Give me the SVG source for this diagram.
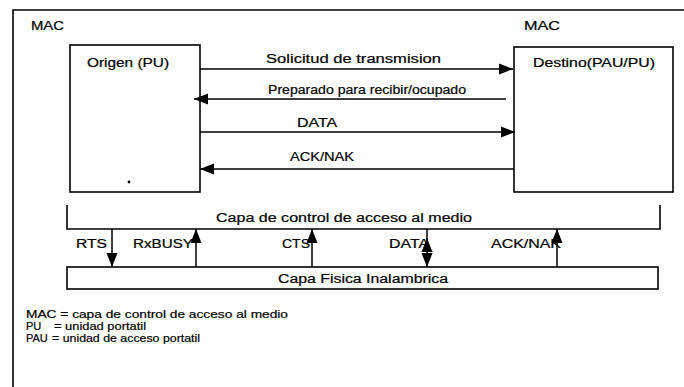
<svg xmlns="http://www.w3.org/2000/svg" width="684" height="387" viewBox="0 0 684 387">
<style>
  text { font-family: "Liberation Sans", Arial, sans-serif; font-size: 12px; fill: #000; stroke: #000; stroke-width: 0.2; }
  .lg { font-size: 11px; }
  .box { fill: none; stroke: #000; stroke-width: 1.6; }
  .ln { fill: none; stroke: #000; stroke-width: 1.6; }
  .arr { fill: none; stroke: #000; stroke-width: 1.5; marker-end: url(#ah); }
</style>
<defs>
  <marker id="ah" markerUnits="userSpaceOnUse" markerWidth="14" markerHeight="12" refX="14" refY="6" orient="auto">
    <path d="M0,0.5 L14,6 L0,11.5 z" fill="#000"/>
  </marker>
</defs>
<rect width="684" height="387" fill="#fff"/>
<g id="frame">
  <path class="ln" d="M13,387 V10 H684" stroke-width="1.8"/>
  <text x="31" y="30" textLength="33" lengthAdjust="spacingAndGlyphs">MAC</text>
  <text x="524" y="30" textLength="36" lengthAdjust="spacingAndGlyphs">MAC</text>
</g>
<g id="origen">
  <rect class="box" x="70" y="45" width="130" height="147"/>
  <text x="87" y="67" textLength="82" lengthAdjust="spacingAndGlyphs">Origen (PU)</text>
  <circle cx="129" cy="182" r="1.4" fill="#000"/>
</g>
<g id="destino">
  <rect class="box" x="514" y="47" width="159" height="145"/>
  <text x="533" y="67" textLength="122" lengthAdjust="spacingAndGlyphs">Destino(PAU/PU)</text>
</g>
<g id="mac-layer">
  <path class="box" d="M67,205 V229 H660 V205"/>
  <text x="216" y="222" textLength="256" lengthAdjust="spacingAndGlyphs">Capa de control de acceso al medio</text>
</g>
<g id="phy-layer">
  <rect class="box" x="67" y="267" width="591" height="22"/>
  <text x="278" y="283" textLength="170" lengthAdjust="spacingAndGlyphs">Capa Fisica Inalambrica</text>
</g>
<g id="connectors">
  <line class="arr" x1="200" y1="69" x2="513" y2="69"/>
  <text x="266" y="63" textLength="175" lengthAdjust="spacingAndGlyphs">Solicitud de transmision</text>
  <line class="arr" x1="506" y1="99" x2="194" y2="99"/>
  <text x="268" y="94" textLength="198" lengthAdjust="spacingAndGlyphs">Preparado para recibir/ocupado</text>
  <line class="arr" x1="200" y1="132" x2="515" y2="132"/>
  <text x="297" y="127" textLength="40" lengthAdjust="spacingAndGlyphs">DATA</text>
  <line class="arr" x1="514" y1="169" x2="200" y2="169"/>
  <text x="290" y="161" textLength="64" lengthAdjust="spacingAndGlyphs">ACK/NAK</text>

  <line class="arr" x1="112" y1="229" x2="112" y2="267"/>
  <text x="76" y="248" textLength="31" lengthAdjust="spacingAndGlyphs">RTS</text>
  <line class="arr" x1="196" y1="267" x2="196" y2="229"/>
  <text x="133" y="248" textLength="60" lengthAdjust="spacingAndGlyphs">RxBUSY</text>
  <line class="arr" x1="312" y1="267" x2="312" y2="229"/>
  <text x="282" y="248" textLength="28" lengthAdjust="spacingAndGlyphs">CTS</text>
  <line class="arr" x1="427" y1="229" x2="427" y2="267"/>
  <line class="arr" x1="427" y1="252" x2="427" y2="238"/>
  <text x="389" y="248" textLength="40" lengthAdjust="spacingAndGlyphs">DATA</text>
  <line class="arr" x1="557" y1="267" x2="557" y2="229"/>
  <text x="491" y="248" textLength="70" lengthAdjust="spacingAndGlyphs">ACK/NAK</text>
</g>
<g id="legend">
  <text class="lg" x="26" y="318" textLength="262" lengthAdjust="spacingAndGlyphs">MAC = capa de control de acceso al medio</text>
  <text class="lg" x="26" y="330">PU</text>
  <text class="lg" x="54" y="330" textLength="92" lengthAdjust="spacingAndGlyphs">= unidad portatil</text>
  <text class="lg" x="26" y="342">PAU</text>
  <text class="lg" x="52" y="342" textLength="148" lengthAdjust="spacingAndGlyphs">= unidad de acceso portatil</text>
</g>
</svg>
